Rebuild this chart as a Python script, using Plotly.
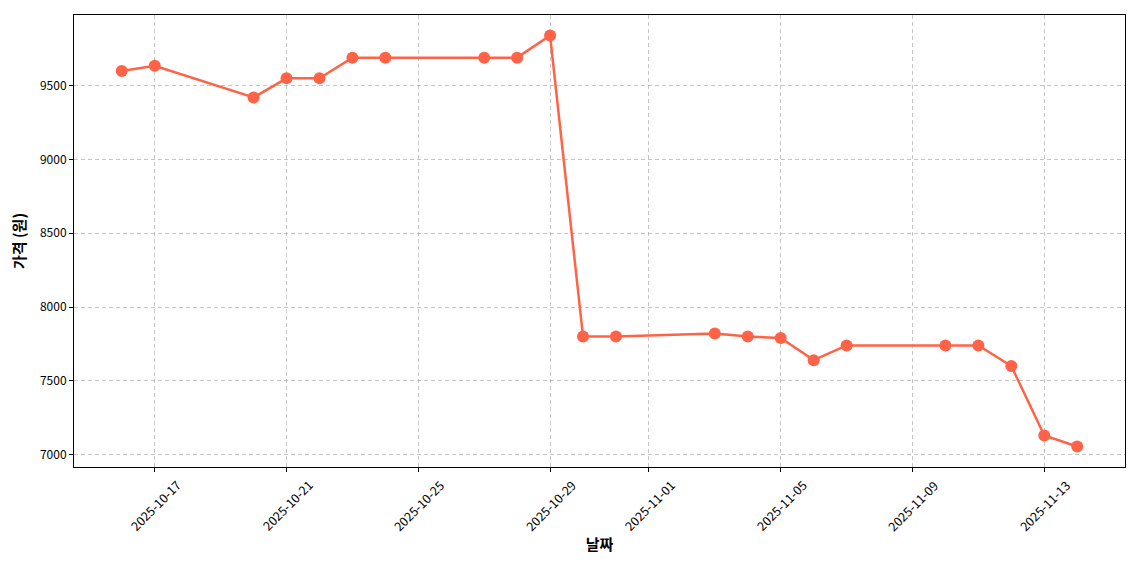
import plotly.graph_objects as go

dates = ["2025-10-16", "2025-10-17", "2025-10-20", "2025-10-21", "2025-10-22", "2025-10-23",
         "2025-10-24", "2025-10-27", "2025-10-28", "2025-10-29", "2025-10-30", "2025-10-31",
         "2025-11-03", "2025-11-04", "2025-11-05", "2025-11-06", "2025-11-07", "2025-11-10",
         "2025-11-11", "2025-11-12", "2025-11-13", "2025-11-14"]
prices = [9600, 9635, 9420, 9550, 9550, 9690,
          9690, 9690, 9690, 9840, 7800, 7800,
          7820, 7800, 7790, 7640, 7740, 7740,
          7740, 7600, 7130, 7055]
xticks = ["2025-10-17", "2025-10-21", "2025-10-25", "2025-10-29", "2025-11-01",
          "2025-11-05", "2025-11-09", "2025-11-13"]
yticks = [7000, 7500, 8000, 8500, 9000, 9500]

font = "Noto Sans CJK KR"
fig = go.Figure()
fig.add_trace(go.Scatter(
    x=dates, y=prices, mode="lines+markers",
    line=dict(color="#FF6347", width=2.5),
    marker=dict(color="#FF6347", size=12),
    showlegend=False,
))

axis_common = dict(
    showline=True, linecolor="black", linewidth=1, mirror=True,
    ticks="outside", ticklen=4, tickcolor="black",
    showgrid=True, gridcolor="rgba(160,160,160,0.6)", griddash="4px,3px", gridwidth=1,
    zeroline=False, tickfont=dict(family=font, size=12, color="black"),
)
fig.update_xaxes(
    **axis_common,
    type="date",
    range=["2025-10-14 13:12", "2025-11-15 10:48"],
    tickvals=xticks, ticktext=xticks, showticklabels=False,
    title=dict(text="<b>날짜</b>", font=dict(family=font, size=15, color="black"), standoff=68),
)
fig.update_yaxes(
    **axis_common,
    range=[6916, 9979],
    tickvals=yticks, ticktext=[str(v) for v in yticks],
    title=dict(text="<b>가격 (원)</b>", font=dict(family=font, size=15, color="black"), standoff=10),
)
# rotated date labels centred on their ticks (matplotlib style)
for t in xticks:
    fig.add_annotation(
        x=t, xref="x", y=0, yref="paper", text=t, textangle=-45,
        showarrow=False, xanchor="center", yanchor="middle", yshift=-38,
        font=dict(family=font, size=12.5, color="black"),
    )
fig.update_layout(
    width=1140, height=570,
    margin=dict(l=66, r=23, t=7, b=111),
    plot_bgcolor="white", paper_bgcolor="white",
    font=dict(family=font),
)
fig.write_html("out.html")
